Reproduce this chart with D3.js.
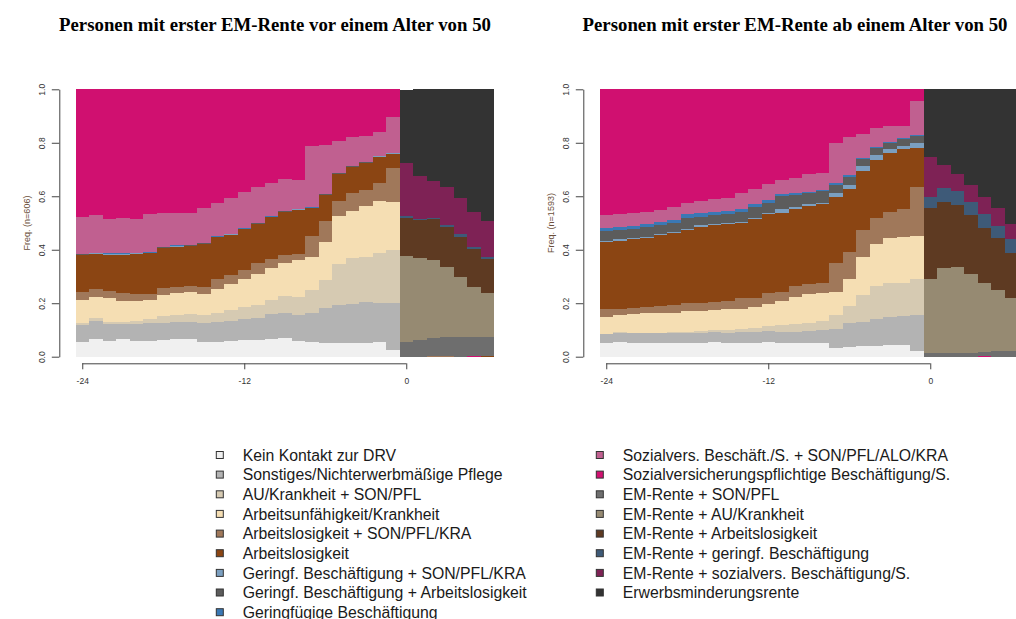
<!DOCTYPE html>
<html>
<head>
<meta charset="utf-8">
<script src="https://cdn.jsdelivr.net/npm/d3@7"></script>
<style>
  body { margin: 0; background: #ffffff; }
  svg { display: block; }
</style>
</head>
<body>
<svg id="chart" width="1016" height="619"></svg>
<script>
// Months relative to the first EM pension (bars -24 .. 6)
const months = d3.range(-24, 7);
const xTickValues = [-24, -12, 0];
const yTickValues = [0, 0.2, 0.4, 0.6, 0.8, 1.0];

const stateLabels = [
  "Kein Kontakt zur DRV",
  "Sonstiges/Nichterwerbmäßige Pflege",
  "AU/Krankheit + SON/PFL",
  "Arbeitsunfähigkeit/Krankheit",
  "Arbeitslosigkeit + SON/PFL/KRA",
  "Arbeitslosigkeit",
  "Geringf. Beschäftigung + SON/PFL/KRA",
  "Geringf. Beschäftigung + Arbeitslosigkeit",
  "Geringfügige Beschäftigung",
  "Sozialvers. Beschäft./S. + SON/PFL/ALO/KRA",
  "Sozialversicherungspflichtige Beschäftigung/S.",
  "EM-Rente + SON/PFL",
  "EM-Rente + AU/Krankheit",
  "EM-Rente + Arbeitslosigkeit",
  "EM-Rente + geringf. Beschäftigung",
  "EM-Rente + sozialvers. Beschäftigung/S.",
  "Erwerbsminderungsrente"
];

const stateColors = [
  "#f0f0f0", "#b3b3b3", "#d6cab2", "#f5deb3", "#a0785a", "#8b4513",
  "#7b9fc0", "#5c5c5c", "#3a78b4", "#c06090", "#d01070",
  "#6e6e6e", "#968a72", "#5e3a22", "#3e5a78", "#7e2255", "#333333"
];

const panelTitles = [
  "Personen mit erster EM-Rente vor einem Alter von 50",
  "Personen mit erster EM-Rente ab einem Alter von 50"
];
const panelN = [606, 1593];

// ---- Shares per state and month: first EM pension before age 50 (n=606)
const z7 = [0, 0, 0, 0, 0, 0, 0];
const vor50_keinKontakt = [.055,.065,.060,.065,.060,.060,.062,.065,.065,.055,.055,.060,.062,.062,.067,.071,.059,.055,.052,.050,.050,.050,.055,.026, ...z7];
const vor50_sonstiges = [.065,.068,.062,.057,.062,.065,.065,.065,.065,.070,.075,.073,.080,.084,.094,.094,.096,.110,.131,.142,.146,.154,.145,.174, ...z7];
const vor50_auSon = [.005,.010,.008,.008,.010,.015,.025,.025,.031,.032,.035,.040,.042,.049,.052,.063,.069,.084,.102,.155,.172,.170,.187,.199, ...z7];
const vor50_au = [.088,.080,.089,.078,.076,.072,.077,.084,.082,.077,.089,.099,.108,.115,.118,.124,.139,.125,.145,.178,.177,.191,.196,.181, ...z7];
const vor50_aloSon = [.029,.031,.027,.031,.028,.024,.028,.023,.023,.027,.035,.035,.032,.042,.035,.028,.020,.077,.078,.058,.069,.059,.065,.124, 0,0,.004,.004,0,0,0];
const vor50_alo = [.138,.131,.136,.143,.149,.151,.149,.150,.148,.161,.158,.149,.152,.145,.155,.161,.167,.104,.097,.100,.095,.101,.100,.055, 0,0,0,0,0,0,.002];
const vor50_gerSon = [.001,.001,.001,.001,.001,.001,.001,.001,.001,.001,.001,.001,.001,.001,.001,.001,.001,.001,.001,.001,.001,.001,.001,.001, ...z7];
const vor50_gerAlo = [.0015,.0015,.0015,.0015,.0015,.0015,.0015,.0015,.0015,.0015,.0015,.0015,.0015,.0015,.0015,.0015,.0015,.0015,.0015,.0015,.0015,.0015,.0015,.0015, ...z7];
const vor50_ger = [.0015,.0015,.0015,.0015,.0015,.0015,.0015,.0015,.0015,.0015,.0015,.0015,.0015,.0015,.0015,.0015,.0015,.0015,.0015,.0015,.0015,.0015,.0015,.0015, ...z7];
const vor50_sozPlus = [.140,.140,.128,.133,.127,.143,.129,.120,.121,.130,.123,.135,.137,.132,.123,.119,.107,.229,.182,.121,.107,.096,.089,.132, ...z7];
const vor50_soz = [.476,.471,.486,.481,.484,.466,.461,.464,.461,.444,.426,.405,.383,.367,.352,.336,.339,.212,.209,.192,.180,.175,.159,.105, 0,0,0,0,0,.004,.002];
const z24 = new Array(24).fill(0);
const vor50_emSon = [...z24, .054,.062,.065,.068,.075,.071,.071];
const vor50_emAu = [...z24, .324,.308,.293,.265,.222,.184,.162];
const vor50_emAlo = [...z24, .142,.140,.152,.149,.151,.144,.127];
const vor50_emGer = [...z24, .005,.004,.003,.006,.010,.008,.010];
const vor50_emSoz = [...z24, .201,.162,.141,.141,.134,.131,.135];
const vor50_em = [...z24, .273,.324,.342,.367,.408,.458,.491];

// ---- Shares per state and month: first EM pension from age 50 (n=1593)
const ab50_keinKontakt = [.050,.055,.052,.052,.050,.050,.050,.052,.055,.052,.052,.052,.054,.052,.052,.052,.052,.034,.037,.040,.040,.042,.042,.021, ...z7];
const ab50_sonstiges = [.034,.035,.035,.035,.037,.037,.037,.038,.037,.038,.040,.042,.042,.042,.042,.045,.047,.071,.090,.091,.100,.108,.110,.134, ...z7];
const ab50_auSon = [.002,.001,.002,.002,.003,.004,.006,.006,.006,.009,.010,.012,.019,.023,.027,.028,.034,.050,.063,.100,.124,.124,.125,.134, ...z7];
const ab50_au = [.064,.066,.071,.073,.075,.074,.077,.076,.077,.078,.078,.079,.081,.091,.103,.108,.104,.088,.102,.143,.156,.170,.172,.162, ...z7];
const ab50_aloSon = [.027,.020,.023,.025,.025,.028,.032,.028,.029,.031,.038,.036,.041,.035,.039,.038,.037,.108,.100,.098,.098,.098,.105,.185, ...z7];
const ab50_alo = [.252,.257,.256,.258,.264,.268,.272,.286,.287,.287,.283,.293,.295,.295,.289,.292,.298,.247,.234,.222,.217,.218,.221,.146, ...z7];
const ab50_gerSon = [.005,.005,.005,.004,.004,.005,.005,.005,.005,.005,.004,.005,.007,.013,.009,.007,.004,.015,.016,.019,.018,.016,.013,.016, ...z7];
const ab50_gerAlo = [.035,.035,.032,.035,.033,.033,.041,.033,.033,.035,.036,.040,.037,.050,.044,.041,.043,.029,.031,.027,.028,.024,.026,.027, ...z7];
const ab50_ger = [.012,.010,.013,.014,.013,.012,.014,.012,.012,.011,.010,.011,.010,.006,.006,.005,.004,.006,.005,.004,.004,.003,.004,.003, ...z7];
const ab50_sozPlus = [.048,.048,.047,.043,.045,.050,.042,.046,.050,.049,.062,.058,.059,.055,.056,.067,.065,.150,.142,.089,.072,.060,.045,.130, ...z7];
const ab50_soz = [.471,.468,.464,.459,.451,.439,.424,.418,.409,.405,.387,.372,.355,.338,.333,.317,.312,.202,.180,.167,.143,.137,.137,.042, 0,0,0,0,.004,0,0];
const ab50_emSon = [...z24, .015,.012,.015,.015,.015,.022,.022];
const ab50_emAu = [...z24, .274,.318,.322,.294,.258,.227,.196];
const ab50_emAlo = [...z24, .266,.250,.230,.221,.206,.194,.171];
const ab50_emGer = [...z24, .044,.050,.053,.049,.050,.046,.050];
const ab50_emSoz = [...z24, .147,.087,.063,.063,.063,.066,.057];
const ab50_em = [...z24, .254,.283,.317,.358,.404,.445,.504];

const vor50Series = [vor50_keinKontakt, vor50_sonstiges, vor50_auSon, vor50_au, vor50_aloSon, vor50_alo,
  vor50_gerSon, vor50_gerAlo, vor50_ger, vor50_sozPlus, vor50_soz,
  vor50_emSon, vor50_emAu, vor50_emAlo, vor50_emGer, vor50_emSoz, vor50_em];
const ab50Series = [ab50_keinKontakt, ab50_sonstiges, ab50_auSon, ab50_au, ab50_aloSon, ab50_alo,
  ab50_gerSon, ab50_gerAlo, ab50_ger, ab50_sozPlus, ab50_soz,
  ab50_emSon, ab50_emAu, ab50_emAlo, ab50_emGer, ab50_emSoz, ab50_em];

// ---------------------------------------------------------------
const svg = d3.select("#chart");
const sansFont = "'Liberation Sans', Arial, sans-serif";
const serifFont = "'Liberation Serif', 'Times New Roman', serif";

const plotTop = 89.3, plotBottom = 356.7;
const panelLayout = [
  { plotLeft: 75.5, axisX: 59.3, titleX: 275 },
  { plotLeft: 599.5, axisX: 583.3, titleX: 795 }
];
const monthWidth = 13.5;
const keys = stateLabels.map((_, i) => "s" + i);

function drawPanel(p, series) {
  const lay = panelLayout[p];
  const x = d3.scaleLinear()
    .domain([-24.5, 6.5])
    .range([lay.plotLeft, lay.plotLeft + 31 * monthWidth]);
  const y = d3.scaleLinear().domain([0, 1]).range([plotBottom, plotTop]);

  const rows = months.map((m, i) => {
    const r = { month: m };
    keys.forEach((k, s) => { r[k] = series[s][i]; });
    return r;
  });
  const stacked = d3.stack().keys(keys)(rows);

  const g = svg.append("g");
  const bars = g.append("g").attr("shape-rendering", "crispEdges");
  stacked.forEach((layer, s) => {
    bars.selectAll(null)
      .data(layer.filter(d => d[1] - d[0] > 0))
      .join("rect")
      .attr("x", d => x(d.data.month - 0.5))
      .attr("width", d => x(d.data.month + 0.5) - x(d.data.month - 0.5))
      .attr("y", d => y(d[1]))
      .attr("height", d => y(d[0]) - y(d[1]))
      .attr("fill", stateColors[s]);
  });

  // y axis
  const yAxis = g.append("g")
    .attr("transform", `translate(${lay.axisX},0)`)
    .call(d3.axisLeft(y).tickValues(yTickValues).tickFormat(d3.format(".1f"))
      .tickSize(7.5).tickSizeOuter(0));
  yAxis.select(".domain").attr("stroke", "#444");
  yAxis.selectAll(".tick line").attr("stroke", "#444");
  yAxis.selectAll(".tick text")
    .attr("x", null).attr("dy", null)
    .attr("transform", "translate(-17.6,0) rotate(-90)")
    .attr("dy", "0.35em")
    .attr("text-anchor", "middle")
    .attr("fill", "#333")
    .style("font-family", sansFont)
    .style("font-size", "8.5px");

  g.append("text")
    .attr("transform", `translate(${lay.axisX - 32.6},${(plotTop + plotBottom) / 2}) rotate(-90)`)
    .attr("dy", "0.35em")
    .attr("text-anchor", "middle")
    .attr("fill", "#6b4f3a")
    .style("font-family", sansFont)
    .style("font-size", "9px")
    .text(`Freq. (n=${panelN[p]})`);

  // x axis
  const xAxis = g.append("g")
    .attr("transform", `translate(0,363.3)`)
    .call(d3.axisBottom(x).tickValues(xTickValues).tickFormat(d => String(d))
      .tickSize(6).tickSizeOuter(0));
  xAxis.select(".domain").remove();
  xAxis.append("line")
    .attr("x1", x(xTickValues[0])).attr("x2", x(xTickValues[xTickValues.length - 1]))
    .attr("y1", 0.5).attr("y2", 0.5)
    .attr("stroke", "#444");
  xAxis.selectAll(".tick line").attr("stroke", "#444");
  xAxis.selectAll(".tick text")
    .attr("y", 21).attr("dy", null)
    .attr("fill", "#333")
    .style("font-family", sansFont)
    .style("font-size", "8.5px");

  // title
  svg.append("text")
    .attr("x", lay.titleX).attr("y", 31)
    .attr("text-anchor", "middle")
    .attr("fill", "#000")
    .style("font-family", serifFont)
    .style("font-weight", "bold")
    .style("font-size", "18.8px")
    .text(panelTitles[p]);
}

drawPanel(0, vor50Series);
drawPanel(1, ab50Series);

// legend in two columns
const legendRowY = [455, 474.6, 494.3, 513.9, 533.6, 553.2, 572.9, 592.5, 612.2];
const legendCols = [
  { boxX: 216.3, textX: 242.7, states: d3.range(0, 9) },
  { boxX: 596.3, textX: 622.7, states: d3.range(9, 17) }
];
const legend = svg.append("g");
legendCols.forEach(col => {
  col.states.forEach((s, r) => {
    const cy = legendRowY[r];
    legend.append("rect")
      .attr("x", col.boxX).attr("y", cy - 3.5)
      .attr("width", 7).attr("height", 7)
      .attr("fill", stateColors[s])
      .attr("stroke", "#333").attr("stroke-width", 1);
    legend.append("text")
      .attr("x", col.textX).attr("y", cy + 5.7)
      .attr("fill", "#1a1a1a")
      .style("font-family", sansFont)
      .style("font-size", "15.8px")
      .text(stateLabels[s]);
  });
});
</script>
</body>
</html>
